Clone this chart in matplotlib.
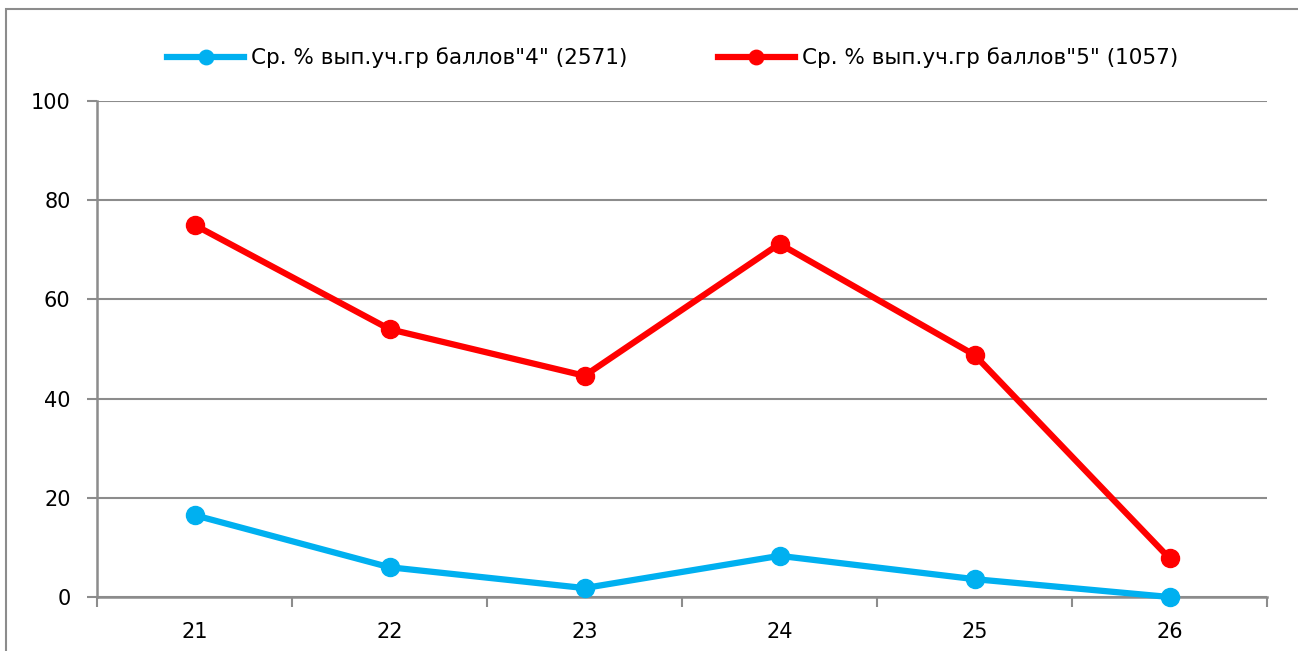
import matplotlib
matplotlib.use("Agg")
import matplotlib.pyplot as plt
from matplotlib.patches import Rectangle
from matplotlib.ticker import FixedLocator, NullFormatter

categories = ["21", "22", "23", "24", "25", "26"]
series4 = [16.5, 6.0, 1.8, 8.3, 3.6, 0.0]
series5 = [75.0, 54.0, 44.6, 71.2, 48.8, 7.8]
label4 = 'Ср. % вып.уч.гр баллов"4" (2571)'
label5 = 'Ср. % вып.уч.гр баллов"5" (1057)'
yticks = [0, 20, 40, 60, 80, 100]

plt.rcParams['font.family'] = ['DejaVu Sans']

fig = plt.figure(figsize=(12.98, 6.51), dpi=100)
W, H = 1298, 651
ax = fig.add_axes([97 / W, 1 - 597 / H, (1267 - 97) / W, (597 - 101) / H])

grey = '#8c8c8c'
x = list(range(1, len(categories) + 1))
ax.plot(x, series4, color='#00B0F0', lw=4.5, marker='o', ms=13, label=label4, clip_on=False, zorder=3)
ax.plot(x, series5, color='#FF0000', lw=4.5, marker='o', ms=13, label=label5, clip_on=False, zorder=3)

ax.set_xlim(0.5, len(categories) + 0.5)
ax.set_ylim(0, 100)
ax.set_yticks(yticks)
ax.yaxis.grid(True, color=grey, lw=1.5)
ax.set_axisbelow(True)

ax.xaxis.set_major_locator(FixedLocator([i + 0.5 for i in range(len(categories) + 1)]))
ax.xaxis.set_major_formatter(NullFormatter())
ax.xaxis.set_minor_locator(FixedLocator(x))
ax.set_xticklabels(categories, minor=True)
ax.tick_params(axis='x', which='major', length=7, width=1.5, color=grey)
ax.tick_params(axis='x', which='minor', length=0, pad=18, labelsize=15)
ax.tick_params(axis='y', length=7, width=1.5, color=grey, labelsize=15, pad=12)

for s in ['top', 'right']:
    ax.spines[s].set_visible(False)
for s in ['left', 'bottom']:
    ax.spines[s].set_color(grey)
    ax.spines[s].set_linewidth(1.8)

leg = fig.legend(loc='center', bbox_to_anchor=(0.518, 1 - 58 / H), ncol=2, frameon=False,
                 fontsize=15.5, handlelength=3.6, columnspacing=4.2, handletextpad=0.3,
                 markerscale=0.8)

fig.patches.append(Rectangle((6 / W, -0.1), 1.2, 1 - 9 / H + 0.1, transform=fig.transFigure,
                             fill=False, edgecolor=grey, lw=1.5))

fig.savefig('out.png', dpi=100)
